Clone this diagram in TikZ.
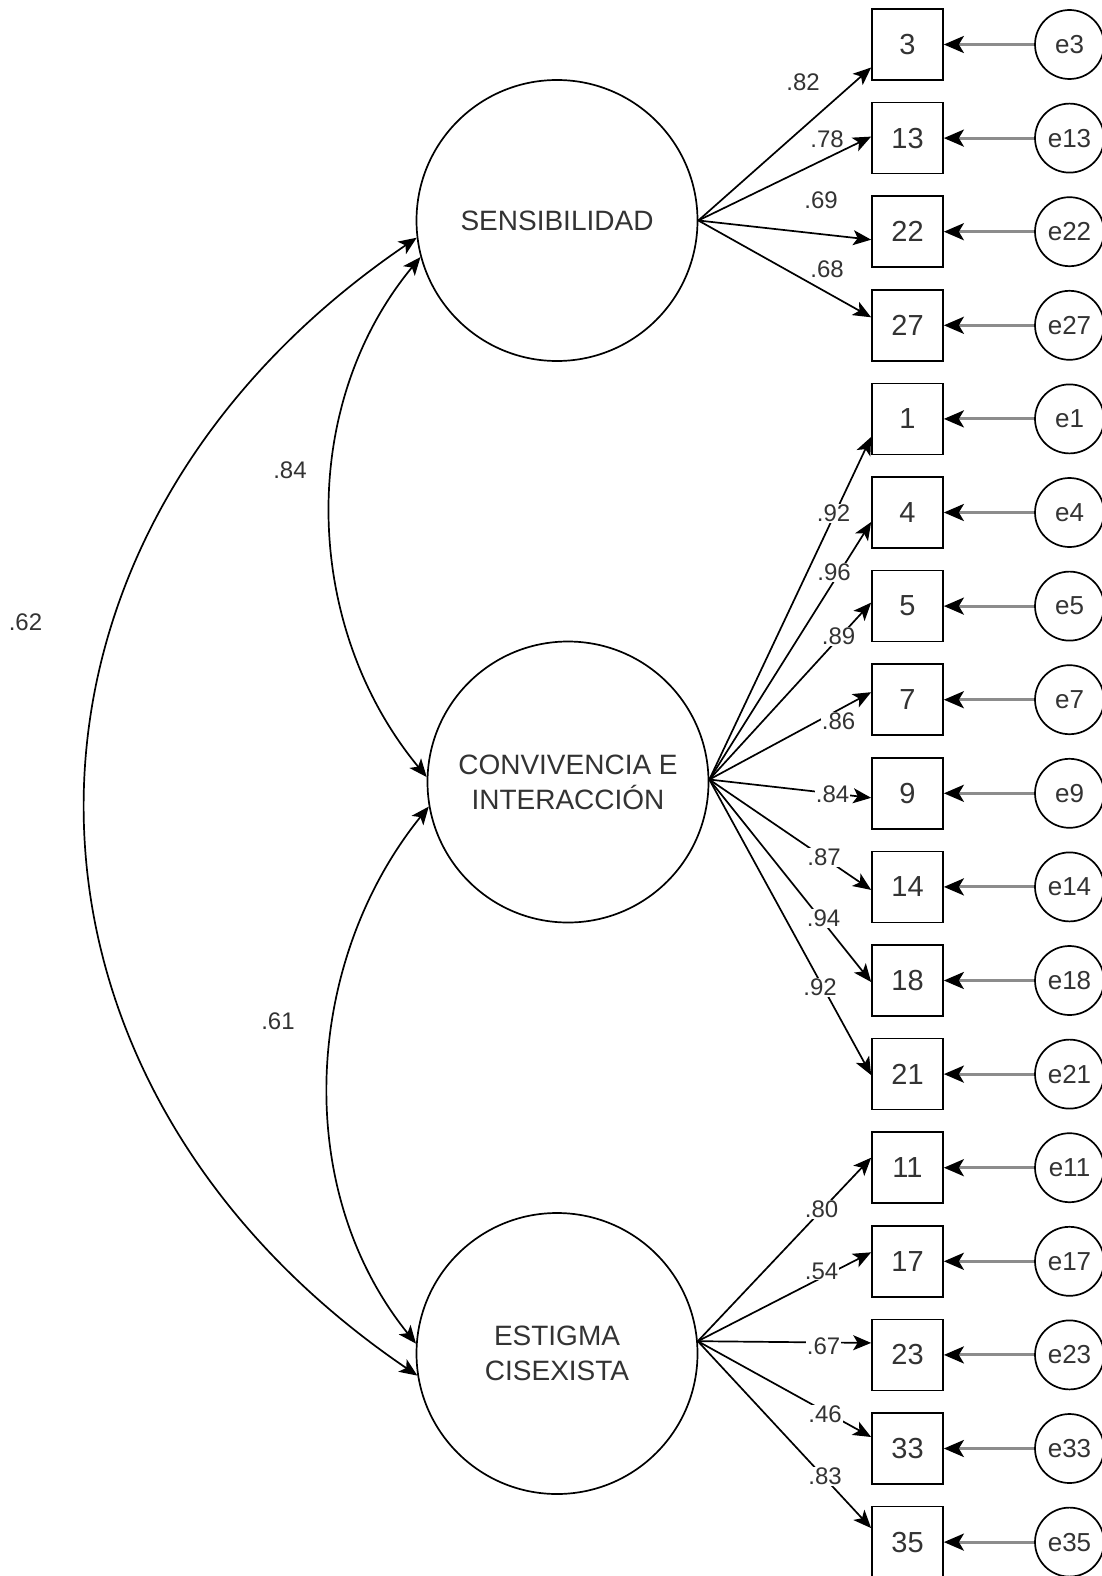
\documentclass[tikz,border=0pt]{standalone}
\usepackage{fontspec}
\setmainfont{Liberation Sans}
\usetikzlibrary{arrows.meta,calc}
\definecolor{txt}{HTML}{333333}
\definecolor{errline}{HTML}{8C8C8C}
\begin{document}
\begin{tikzpicture}[x=1pt,y=-1pt,
  latent/.style={circle, draw, line width=1.7pt, minimum size=281pt, inner sep=0pt, align=center, font=\fontsize{28}{35}\selectfont, text=txt},
  item/.style={rectangle, draw, line width=1.7pt, minimum width=71pt, minimum height=71pt, inner sep=0pt, font=\fontsize{29}{35}\selectfont, text=txt},
  err/.style={circle, draw, line width=1.7pt, minimum size=69pt, inner sep=0pt, font=\fontsize{26}{30}\selectfont, text=txt},
  load/.style={-{Stealth[length=18pt,width=15pt,inset=4.5pt]}, line width=1.7pt},
  erra/.style={draw=errline, line width=3pt, -{Stealth[length=20pt,width=17pt,inset=5pt,color=black]}},
  cov/.style={{Stealth[length=18pt,width=15pt,inset=4.5pt]}-{Stealth[length=18pt,width=15pt,inset=4.5pt]}, line width=1.7pt},
  lab/.style={fill=white, inner sep=1pt, font=\fontsize{24}{26}\selectfont, text=txt}
]
\useasboundingbox[fill=white] (0,0) rectangle (1102,1576);

% latent factors
\node[latent] (sens) at (557,220.5) {SENSIBILIDAD};
\node[latent] (conv) at (568,782) {CONVIVENCIA E\\INTERACCIÓN};
\node[latent] (estig) at (557,1353.5) {ESTIGMA\\CISEXISTA};

% items and errors
\foreach \n [count=\i from 0] in {3,13,22,27,1,4,5,7,9,14,18,21,11,17,23,33,35} {
  \node[item] (b\n) at (907.5, {44.5+93.6*\i}) {\n};
  \node[err] (e\n) at (1069.5, {44.5+93.6*\i}) {e\n};
  \draw[erra] (e\n) -- (b\n);
}

% loadings
\coordinate (fs) at (sens.east);
\coordinate (fc) at (conv.1);
\coordinate (fe) at (estig.5);
\foreach \n/\o in {3/23,13/-1.5,22/8,27/-8} {
  \draw[load] (fs) -- ($(b\n.west)+(0,\o)$);
}
\foreach \n/\o in {1/18,4/9.5,5/-3.5,7/-7.5,9/4.5,14/3,18/1.5,21/1} {
  \draw[load] (fc) -- ($(b\n.west)+(0,\o)$);
}
\foreach \n/\o in {11/-10,17/-9,23/-12,33/-11.5,35/-14} {
  \draw[load] (fe) -- ($(b\n.west)+(0,\o)$);
}

% covariances
\draw[cov] (sens.187) .. controls +(-441,300) and +(-441,-300) .. (estig.189);
\draw[cov] (sens.195) .. controls +(-124,150) and +(-124,-150) .. (conv.178);
\draw[cov] (conv.190) .. controls +(-125,155) and +(-125,-155) .. (estig.176);

% labels
\node[lab] (l3) at (803,82) {.82};
\node[lab] (l13) at (827,139) {.78};
\node[lab] (l22) at (821,200) {.69};
\node[lab] (l27) at (827,269) {.68};
\node[lab] (l1) at (833.5,513) {.92};
\node[lab] (l4) at (834,572) {.96};
\node[lab] (l5) at (838.5,636) {.89};
\node[lab] (l7) at (838.5,721) {.86};
\node[lab] (l9) at (832.5,794) {.84};
\node[lab] (l14) at (824,857) {.87};
\node[lab] (l18) at (823.5,918) {.94};
\node[lab] (l21) at (820,987) {.92};
\node[lab] (l11) at (821.5,1209) {.80};
\node[lab] (l17) at (821.5,1271) {.54};
\node[lab] (l23) at (823.5,1346) {.67};
\node[lab] (l33) at (825,1414) {.46};
\node[lab] (l35) at (825,1476) {.83};
\node[lab] (c1) at (290,470) {.84};
\node[lab] (c2) at (25.5,622.5) {.62};
\node[lab] (c3) at (278,1021.7) {.61};
\end{tikzpicture}
\end{document}
